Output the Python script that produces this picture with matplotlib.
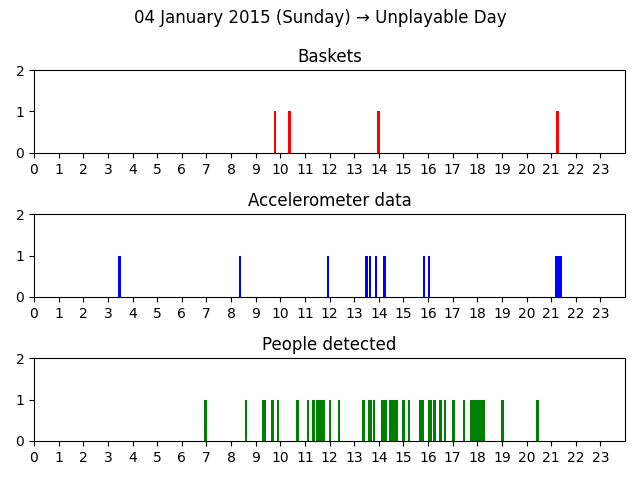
import matplotlib
matplotlib.use("Agg")
import matplotlib.pyplot as plt

hours = list(range(24))

basket_start = [9.75, 10.30, 13.93, 21.20]
basket_end = [9.82, 10.43, 14.05, 21.31]

acc_start = [3.42, 8.32, 11.90, 13.44, 13.60, 13.83, 14.17, 15.79, 16.02, 21.16]
acc_end = [3.53, 8.39, 11.96, 13.55, 13.67, 13.91, 14.28, 15.87, 16.10, 21.43]

people_start = [6.90, 8.57, 9.26, 9.61, 9.87, 10.64, 11.08, 11.29, 11.45, 11.96,
                12.34, 13.34, 13.56, 13.76, 14.09, 14.41, 14.96, 15.18, 15.63, 15.99,
                16.19, 16.44, 16.64, 16.99, 17.41, 17.70, 18.95, 20.40]
people_end = [7.01, 8.65, 9.42, 9.74, 9.95, 10.76, 11.16, 11.41, 11.81, 12.06,
              12.42, 13.44, 13.73, 13.84, 14.33, 14.78, 15.06, 15.26, 15.83, 16.15,
              16.31, 16.56, 16.72, 17.09, 17.49, 18.30, 19.07, 20.50]

panels = [
    ("Baskets", basket_start, basket_end, "red"),
    ("Accelerometer data", acc_start, acc_end, "blue"),
    ("People detected", people_start, people_end, "green"),
]

fig, axes = plt.subplots(3, 1, figsize=(6.4, 4.8), dpi=100)
fig.subplots_adjust(left=34/640, right=625/640, top=1-70/480, bottom=1-441/480, hspace=0.735)
fig.suptitle("04 January 2015 (Sunday) \u2192 Unplayable Day", y=1-18/480, va="center")

for ax, (title, starts, ends, color) in zip(axes, panels):
    widths = [e - s for s, e in zip(starts, ends)]
    ax.bar(starts, [1] * len(starts), width=widths, align="edge", color=color, linewidth=0)
    ax.set_title(title)
    ax.set_xlim(0, 24)
    ax.set_ylim(0, 2)
    ax.set_yticks([0, 1, 2])
    ax.set_xticks(hours)
    ax.set_xticklabels([str(h) for h in hours])

fig.savefig("out.png", dpi=100)
